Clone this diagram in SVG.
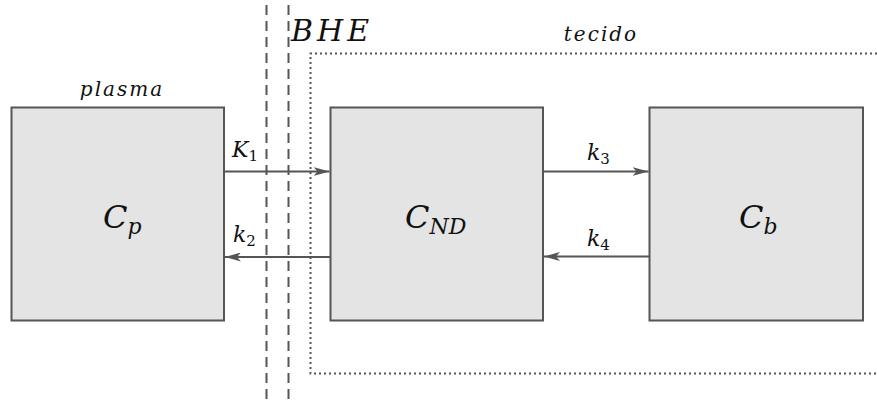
<svg xmlns="http://www.w3.org/2000/svg" width="877" height="403" viewBox="0 0 877 403">
<style>
.box{fill:#e4e4e4;stroke:#555;stroke-width:2}
.m{font-family:'DejaVu Serif','Liberation Serif',serif;font-style:italic;fill:#111}
.sub{font-style:normal}
.conn{stroke:#555;stroke-width:2;fill:none}
.dash{stroke:#555;stroke-width:2;stroke-dasharray:10 6;fill:none}
.dot{stroke:#555;stroke-width:2;stroke-dasharray:2 3;fill:none}
</style>
<defs>
<marker id="ah" markerWidth="16" markerHeight="9" refX="16" refY="4.5" orient="auto" markerUnits="userSpaceOnUse">
<path d="M0,0 L16,4.5 L0,9 L4,4.5 Z" fill="#555"/>
</marker>
</defs>
<rect width="877" height="403" fill="#fff"/>
<g id="barrier">
<line class="dash" x1="266.5" y1="5" x2="266.5" y2="403"/>
<line class="dash" x1="288.5" y1="5" x2="288.5" y2="403"/>
<text class="m" x="291" y="41" font-size="30" letter-spacing="4">BHE</text>
</g>
<g id="tecido">
<path class="dot" d="M877,53.5 H310.5 V373.5 H877"/>
<text class="m" x="601" y="41" font-size="20" letter-spacing="2" text-anchor="middle">tecido</text>
</g>
<g id="plasma-label">
<text class="m" x="122" y="96" font-size="20" letter-spacing="2" text-anchor="middle">plasma</text>
</g>
<g id="Cp">
<rect class="box" x="11.5" y="107.5" width="212.5" height="213"/>
<text class="m" x="103" y="228" font-size="32">C<tspan font-size="22" dy="6">p</tspan></text>
</g>
<g id="CND">
<rect class="box" x="330.5" y="107.5" width="212.5" height="213"/>
<text class="m" x="405" y="228" font-size="32">C<tspan font-size="22" dy="6">ND</tspan></text>
</g>
<g id="Cb">
<rect class="box" x="649.5" y="107.5" width="213.5" height="213"/>
<text class="m" x="739" y="228" font-size="32">C<tspan font-size="22" dy="6">b</tspan></text>
</g>
<g id="connectors">
<line class="conn" x1="224" y1="171.5" x2="329.5" y2="171.5" marker-end="url(#ah)"/>
<line class="conn" x1="330.5" y1="257" x2="225" y2="257" marker-end="url(#ah)"/>
<line class="conn" x1="543" y1="171.5" x2="648.5" y2="171.5" marker-end="url(#ah)"/>
<line class="conn" x1="649.5" y1="256.5" x2="544" y2="256.5" marker-end="url(#ah)"/>
<text class="m" x="232" y="157" font-size="22">K<tspan class="sub" font-size="15" dy="4">1</tspan></text>
<text class="m" x="233" y="242" font-size="22">k<tspan class="sub" font-size="15" dy="4">2</tspan></text>
<text class="m" x="587" y="160" font-size="22">k<tspan class="sub" font-size="15" dy="4">3</tspan></text>
<text class="m" x="587" y="246" font-size="22">k<tspan class="sub" font-size="15" dy="4">4</tspan></text>
</g>
</svg>
